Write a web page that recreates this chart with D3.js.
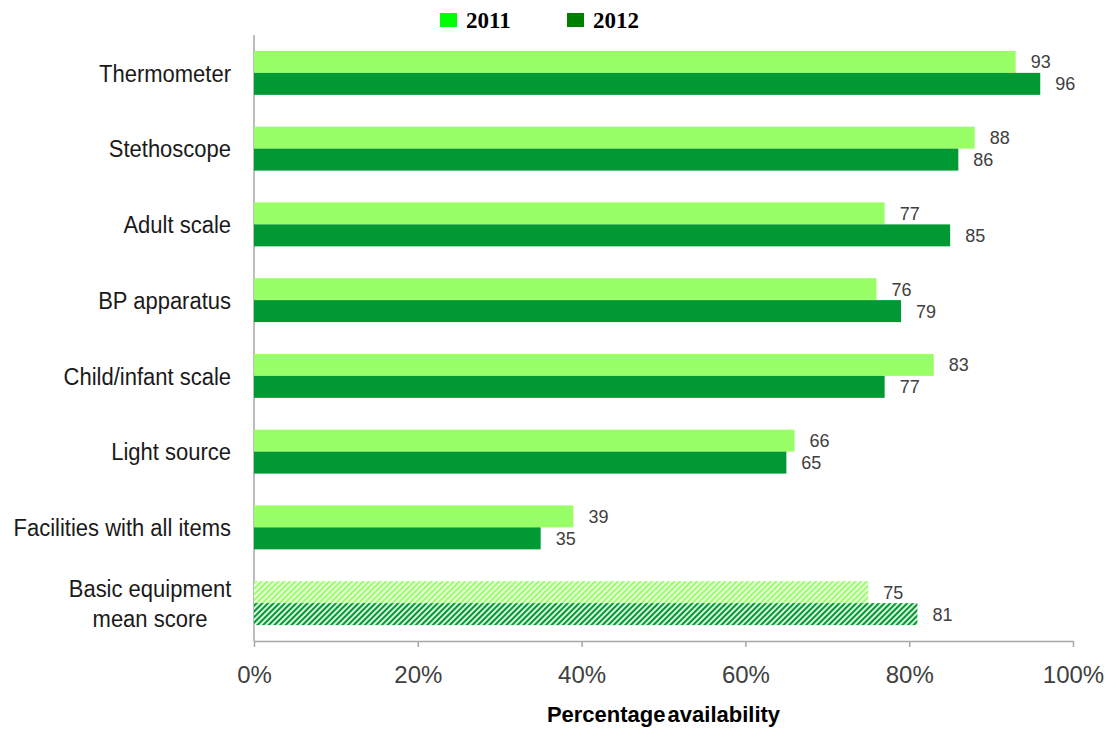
<!DOCTYPE html>
<html>
<head>
<meta charset="utf-8">
<script src="https://cdn.jsdelivr.net/npm/d3@7/dist/d3.min.js"></script>
<style>
  html, body { margin: 0; padding: 0; background: #ffffff; }
  svg { display: block; }
</style>
</head>
<body>
<svg id="chart" width="1114" height="731"></svg>
<script>
// Equipment items (top to bottom)
const categories = [
  "Thermometer",
  "Stethoscope",
  "Adult scale",
  "BP apparatus",
  "Child/infant scale",
  "Light source",
  "Facilities with all items",
  "Basic equipment mean score"
];
// Percentage availability per year
const values2011 = [93, 88, 77, 76, 83, 66, 39, 75];
const values2012 = [96, 86, 85, 79, 77, 65, 35, 81];
const seriesNames = ["2011", "2012"];
const tickValues = [0, 20, 40, 60, 80, 100];
const tickLabels = ["0%", "20%", "40%", "60%", "80%", "100%"];
const axisTitle = "Percentage availability";

const colors = { "2011": "#99ff66", "2012": "#009933" };
const legendColors = { "2011": "#00ff00", "2012": "#008000" };
const summaryCategory = "Basic equipment mean score";

const svg = d3.select("#chart");
const plotLeft = 254, plotRight = 1073, plotTop = 35, plotBottom = 641;
const sans = "'Liberation Sans', Arial, sans-serif";

const x = d3.scaleLinear().domain([0, 100]).range([plotLeft, plotRight]);
const y = d3.scaleBand().domain(categories).range([plotTop, plotBottom])
  .paddingInner(0.42).paddingOuter(0.21);
const ySub = d3.scaleBand().domain(seriesNames).range([0, y.bandwidth()]);

// Hatch patterns for the summary row
const defs = svg.append("defs");
seriesNames.forEach(s => {
  const p = defs.append("pattern")
    .attr("id", "hatch" + s)
    .attr("patternUnits", "userSpaceOnUse")
    .attr("width", 4).attr("height", 4)
    .attr("patternTransform", "rotate(45)");
  p.append("rect").attr("width", 4).attr("height", 4).attr("fill", "#f4fff0");
  p.append("rect").attr("width", 2.2).attr("height", 4).attr("fill", colors[s]);
});

const rows = categories.map((c, i) => ({
  cat: c,
  bars: [
    { s: "2011", v: values2011[i] },
    { s: "2012", v: values2012[i] }
  ]
}));

// Vertical category axis line
svg.append("line")
  .attr("x1", x(0)).attr("x2", x(0))
  .attr("y1", plotTop).attr("y2", plotBottom)
  .attr("stroke", "#a6a6a6").attr("stroke-width", 1.5);

const xAxis = d3.axisBottom(x)
  .tickValues(tickValues)
  .tickFormat((d, i) => tickLabels[i])
  .tickSize(6)
  .tickSizeOuter(0);

const gx = svg.append("g")
  .attr("transform", `translate(0,${plotBottom})`)
  .call(xAxis);
gx.select(".domain").attr("stroke", "#a6a6a6").attr("stroke-width", 1.5);
gx.selectAll(".tick line").attr("stroke", "#a6a6a6").attr("stroke-width", 1.5);
gx.selectAll(".tick text")
  .attr("y", 33)
  .attr("dy", "0.36em")
  .attr("fill", "#404040")
  .style("font-family", sans)
  .style("font-size", "24px");

// Bars
const groups = svg.append("g").selectAll("g.row")
  .data(rows).join("g")
  .attr("class", "row")
  .attr("transform", d => `translate(0,${y(d.cat)})`);

groups.selectAll("rect")
  .data(d => d.bars.map(b => ({ ...b, cat: d.cat })))
  .join("rect")
  .attr("x", x(0))
  .attr("y", d => ySub(d.s))
  .attr("width", d => x(d.v) - x(0))
  .attr("height", ySub.bandwidth())
  .attr("fill", d => d.cat === summaryCategory ? `url(#hatch${d.s})` : colors[d.s]);

// Value labels
groups.selectAll("text.val")
  .data(d => d.bars)
  .join("text")
  .attr("class", "val")
  .attr("x", d => x(d.v) + 15)
  .attr("y", d => ySub(d.s) + ySub.bandwidth() / 2)
  .attr("dy", "0.36em")
  .attr("fill", "#404040")
  .style("font-family", sans)
  .style("font-size", "18px")
  .text(d => d.v);

// Category labels (slightly tall letterforms)
const catLabels = svg.append("g");
const tallText = (px, py, anchor) => catLabels.append("g")
  .attr("transform", `translate(${px},${py}) scale(1,1.1)`)
  .append("text")
  .attr("text-anchor", anchor)
  .attr("dy", "0.36em")
  .attr("fill", "#1a1a1a")
  .style("font-family", sans)
  .style("font-size", "22px");

rows.forEach(r => {
  const cy = y(r.cat) + y.bandwidth() / 2;
  if (r.cat === summaryCategory) {
    tallText(150, cy - 15, "middle").text("Basic equipment");
    tallText(150, cy + 15, "middle").text("mean score");
  } else {
    tallText(231, cy, "end").text(r.cat);
  }
});

// Axis title
svg.append("text")
  .attr("x", (plotLeft + plotRight) / 2)
  .attr("y", 714)
  .attr("dy", "0.36em")
  .attr("text-anchor", "middle")
  .attr("fill", "#000000")
  .style("font-family", sans)
  .style("font-size", "22px")
  .style("font-weight", "bold")
  .style("word-spacing", "-4px")
  .text(axisTitle);

// Legend
const legendX = [440, 567];
const legend = svg.append("g").selectAll("g")
  .data(seriesNames).join("g")
  .attr("transform", (d, i) => `translate(${legendX[i]},13)`);
legend.append("rect")
  .attr("width", 17).attr("height", 14)
  .attr("fill", d => legendColors[d]);
legend.append("text")
  .attr("x", 26).attr("y", 7)
  .attr("dy", "0.35em")
  .attr("fill", "#000000")
  .style("font-family", "'Liberation Serif', 'Times New Roman', serif")
  .style("font-size", "23px")
  .style("font-weight", "bold")
  .text(d => d);
</script>
</body>
</html>
